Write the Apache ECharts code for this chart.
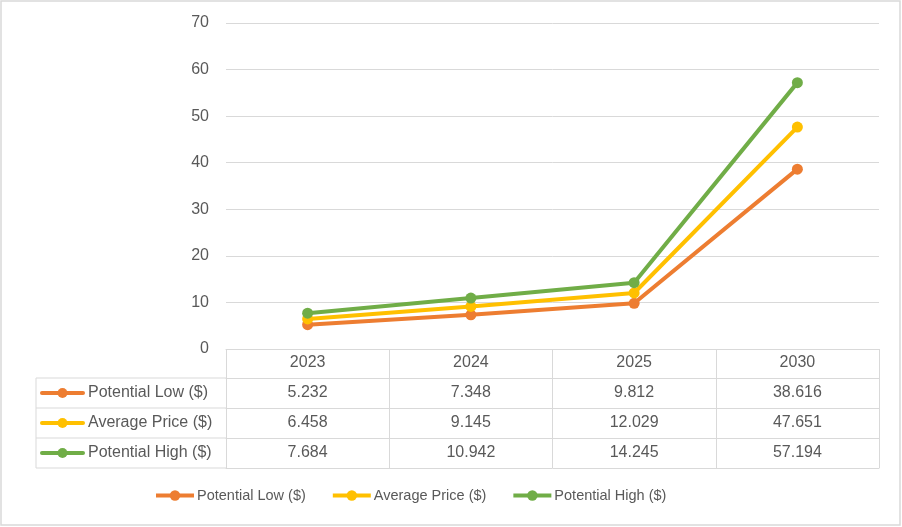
<!DOCTYPE html>
<html>
<head>
<meta charset="utf-8">
<script src="https://cdn.jsdelivr.net/npm/echarts@6/dist/echarts.min.js"></script>
<style>html,body{margin:0;padding:0;background:#fff}#c{width:902px;height:527px}</style>
</head>
<body>
<div id="c"></div>
<script>
const categories = ['2023', '2024', '2025', '2030'];
const seriesNames = ['Potential Low ($)', 'Average Price ($)', 'Potential High ($)'];
const potentialLow = [5.232, 7.348, 9.812, 38.616];
const averagePrice = [6.458, 9.145, 12.029, 47.651];
const potentialHigh = [7.684, 10.942, 14.245, 57.194];
const yTicks = [0, 10, 20, 30, 40, 50, 60, 70];

const colors = ['#ED7D31', '#FFC000', '#70AD47'];
const seriesData = [potentialLow, averagePrice, potentialHigh];
const FONT = 'Liberation Sans';
const TXT = '#595959';
const GRID = '#D9D9D9';
const gridLeft = 226, gridRight = 23, gridTop = 23, gridBottom = 178;
const headerH = 29, rowH = 30;
const tableLeft = 36;

const xAxes = [{
  type: 'category', data: categories, position: 'bottom', boundaryGap: true,
  axisLine: {show: true, lineStyle: {color: GRID, width: 1}},
  axisTick: {show: true, interval: 0, length: headerH + rowH * 3, lineStyle: {color: GRID}},
  axisLabel: {color: TXT, fontFamily: FONT, fontSize: 16, margin: 6, interval: 0}
}];
seriesData.forEach((arr, i) => {
  xAxes.push({
    type: 'category', data: arr.map(v => v.toFixed(3)), position: 'bottom', offset: headerH + rowH * i,
    axisLine: {show: true, lineStyle: {color: GRID, width: 1}},
    axisTick: {show: false},
    axisLabel: {color: TXT, fontFamily: FONT, fontSize: 16, margin: 7, interval: 0}
  });
});
xAxes.push({
  type: 'category', data: categories, position: 'bottom', offset: headerH + rowH * 3,
  axisLine: {show: true, lineStyle: {color: GRID, width: 1}},
  axisTick: {show: false}, axisLabel: {show: false}
});

const chart = echarts.init(document.getElementById('c'));
const axisY = 527 - gridBottom;
const graphics = [{
  type: 'rect', shape: {x: 1, y: 1, width: 899, height: 524},
  style: {fill: 'none', stroke: GRID, lineWidth: 1.5}, silent: true
}];
for (let i = 0; i < 3; i++) {
  const top = axisY + headerH + rowH * i;
  graphics.push({type: 'line', shape: {x1: tableLeft, y1: top, x2: gridLeft, y2: top}, style: {stroke: GRID, lineWidth: 1}});
  const cy = top + rowH / 2;
  graphics.push({type: 'line', shape: {x1: 42, y1: cy, x2: 83, y2: cy}, style: {stroke: colors[i], lineWidth: 4, lineCap: 'round'}});
  graphics.push({type: 'circle', shape: {cx: 62.5, cy: cy, r: 5}, style: {fill: colors[i]}});
  graphics.push({type: 'text', x: 88, y: cy, style: {text: seriesNames[i], fill: TXT, font: '16px "' + FONT + '"', verticalAlign: 'middle', align: 'left'}});
}
const bottom = axisY + headerH + rowH * 3;
graphics.push({type: 'line', shape: {x1: tableLeft, y1: bottom, x2: gridLeft, y2: bottom}, style: {stroke: GRID, lineWidth: 1}});
graphics.push({type: 'line', shape: {x1: tableLeft, y1: axisY + headerH, x2: tableLeft, y2: bottom}, style: {stroke: GRID, lineWidth: 1}});

chart.setOption({
  animation: false,
  backgroundColor: '#fff',
  grid: {left: gridLeft, right: gridRight, top: gridTop, bottom: gridBottom, containLabel: false},
  legend: {
    bottom: 19, left: 149, itemWidth: 38, itemHeight: 13, itemGap: 25,
    lineStyle: {width: 4},
    textStyle: {color: TXT, fontFamily: FONT, fontSize: 14.5, padding: [0, 0, 0, -2]},
    data: seriesNames
  },
  xAxis: xAxes,
  yAxis: {
    type: 'value', min: yTicks[0], max: yTicks[yTicks.length - 1], interval: 10,
    axisLine: {show: false}, axisTick: {show: false},
    axisLabel: {color: TXT, fontFamily: FONT, fontSize: 16, margin: 17},
    splitLine: {lineStyle: {color: GRID, width: 1}}
  },
  graphic: graphics,
  series: seriesData.map((arr, i) => ({
    name: seriesNames[i], type: 'line', data: arr, xAxisIndex: 0,
    symbol: 'circle', symbolSize: 11, showSymbol: true,
    lineStyle: {color: colors[i], width: 4},
    itemStyle: {color: colors[i]},
    z: 3 + i
  }))
});
</script>
</body>
</html>
